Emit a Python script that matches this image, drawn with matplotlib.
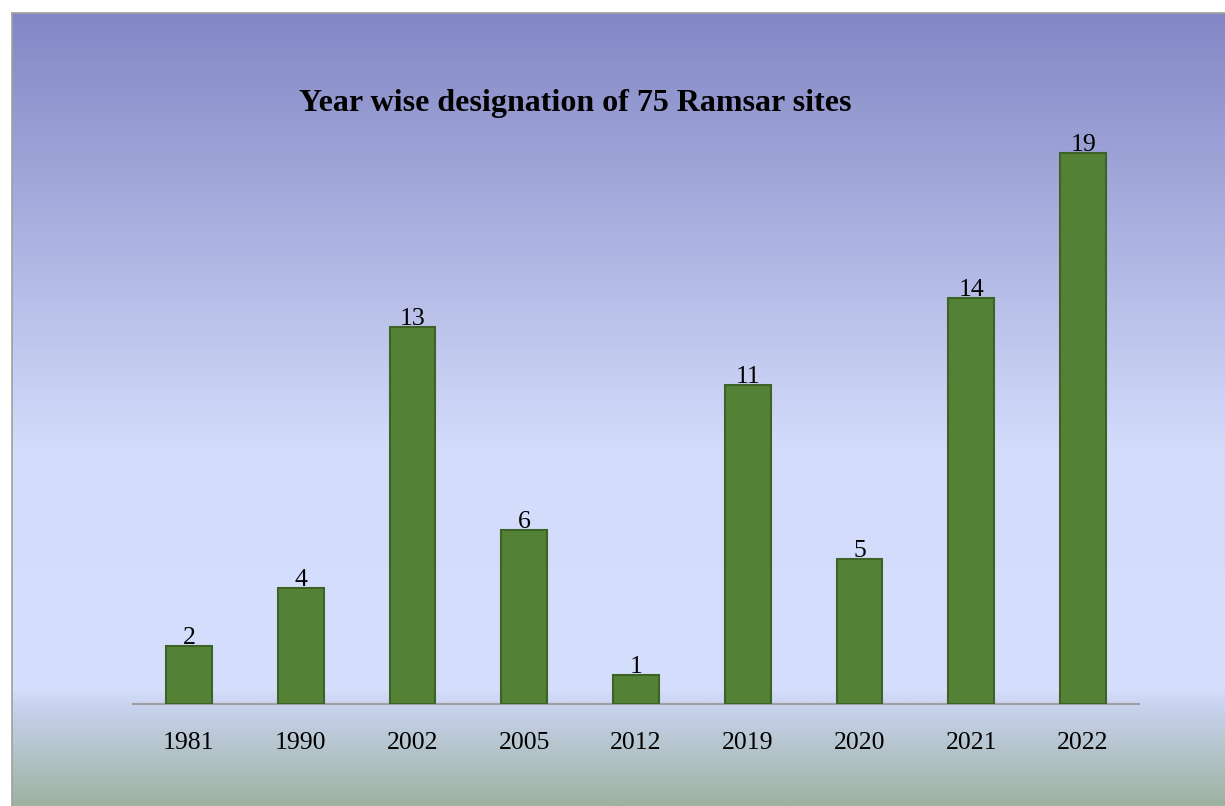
import numpy as np
import matplotlib
matplotlib.use("Agg")
import matplotlib.pyplot as plt
from matplotlib.colors import LinearSegmentedColormap

years = ["1981", "1990", "2002", "2005", "2012", "2019", "2020", "2021", "2022"]
sites = [2, 4, 13, 6, 1, 11, 5, 14, 19]
title = "Year wise designation of 75 Ramsar sites"

W, H = 1225, 806
fig = plt.figure(figsize=(W / 100, H / 100), dpi=100)
fig.patch.set_facecolor("white")

# gradient panel behind the chart (starts a bit in from top/left)
x0, y0 = 12 / W, 13 / H
bg = fig.add_axes([x0, 0, 1 - x0, 1 - y0])
bg_cmap = LinearSegmentedColormap.from_list("bg", [
    (0.00, "#8387c5"),
    (0.55, "#d3dcfb"),
    (0.855, "#d5defc"),
    (0.875, "#c9d3ef"),
    (1.00, "#9eb2a2"),
])
bg.imshow(np.linspace(0, 1, 400)[:, None], aspect="auto", cmap=bg_cmap,
          extent=[0, 1, 0, 1])
bg.set_xticks([]); bg.set_yticks([])
for side in ("right", "bottom"):
    bg.spines[side].set_visible(False)
for side in ("left", "top"):
    bg.spines[side].set_color("#a0a0a0")
    bg.spines[side].set_linewidth(1.2)

# plot area: baseline at y=704 px, x from 133 to 1139 px, ymax=20 -> 124 px
left, right = 133 / W, 1139 / W
bottom, top = (H - 704) / H, (H - 124) / H
ax = fig.add_axes([left, bottom, right - left, top - bottom])
ax.patch.set_alpha(0)

x = np.arange(len(years))
bars = ax.bar(x, sites, width=0.41, color="#538135", edgecolor="#3e6327",
              linewidth=1.5, zorder=3)
for b, v in zip(bars, sites):
    ax.text(b.get_x() + b.get_width() / 2, v - 0.12, str(v), ha="center",
            va="bottom", fontsize=18.5, family="Liberation Serif", color="black",
            zorder=4)

ax.set_xlim(-0.5, len(years) - 0.5)
ax.set_ylim(0, 20)
ax.set_xticks(x, years, family="Liberation Serif", fontsize=18.5)
ax.tick_params(axis="x", length=0, pad=20)
ax.set_yticks([])
for side in ("left", "right", "top"):
    ax.spines[side].set_visible(False)
ax.spines["bottom"].set_color("#a0a0a0")
ax.spines["bottom"].set_linewidth(1.5)

fig.text(575 / W, 1 - 103 / H, title, ha="center", va="center",
         fontsize=23, fontweight="bold", family="Liberation Serif")

fig.savefig("out.png", dpi=100)
